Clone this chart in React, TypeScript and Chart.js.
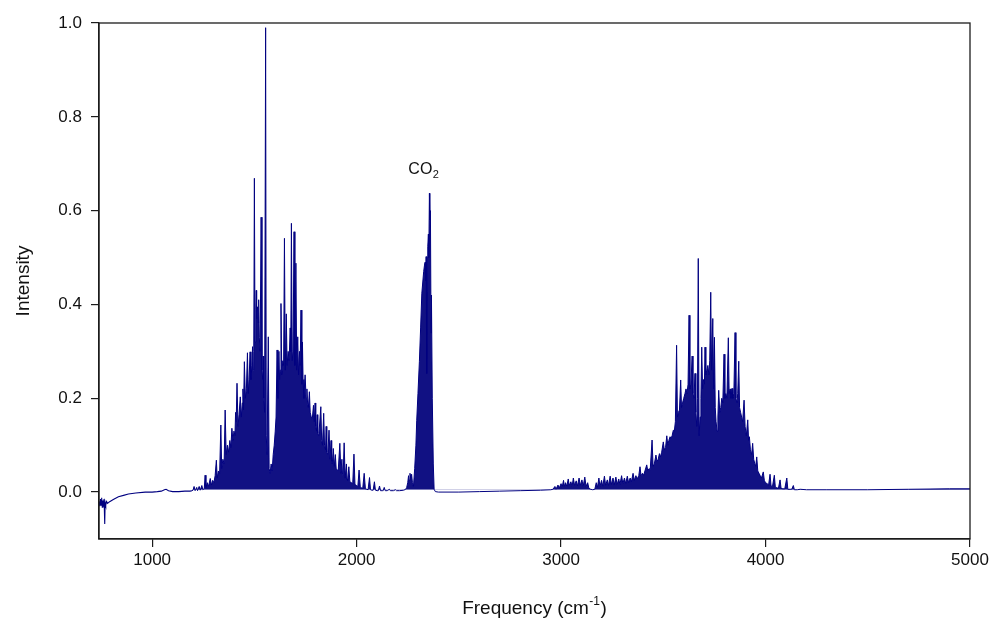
import React, { useEffect, useRef } from 'react';
import { Chart, registerables } from 'chart.js';

Chart.register(...registerables);

// ---- axis settings / tick labels ----
const xTicks = [1000, 2000, 3000, 4000, 5000];
const yTicks = [0.0, 0.2, 0.4, 0.6, 0.8, 1.0];
const xMin = 740;
const xMax = 5000;
const yMin = -0.1;
const yMax = 1.0;

// ---- spectrum values: [frequency cm-1, intensity] ----
const lowBaseline: [number, number][] = [
  [740, -0.02], [744, -0.03], [747, -0.015], [750, -0.028], [753, -0.012], [756, -0.032],
  [759, -0.018], [762, -0.03], [764, -0.015], [766, -0.034], [768, -0.068], [770, -0.022],
  [773, -0.028], [777, -0.02], [782, -0.024], [790, -0.021], [810, -0.016], [835, -0.01],
  [860, -0.007], [884, -0.004], [920, -0.002], [966, 0.0], [1000, 0.0], [1025, 0.001],
  [1045, 0.002], [1060, 0.005], [1068, 0.006], [1080, 0.003], [1100, 0.001], [1130, 0.001],
  [1160, 0.002], [1185, 0.002],
];

const bendBand: [number, number][] = [
  [1195, 0.003], [1200, 0.004], [1205, 0.012], [1210, 0.003], [1218, 0.01], [1222, 0.003],
  [1230, 0.012], [1235, 0.004], [1243, 0.014], [1248, 0.005], [1255, 0.008], [1259, 0.036],
  [1263, 0.01], [1270, 0.02], [1276, 0.012], [1284, 0.029], [1290, 0.015], [1296, 0.025],
  [1302, 0.02], [1308, 0.035], [1314, 0.068], [1318, 0.03], [1324, 0.045], [1330, 0.04],
  [1336, 0.143], [1340, 0.05], [1346, 0.07], [1352, 0.06], [1357, 0.175], [1362, 0.08],
  [1368, 0.1], [1374, 0.085], [1380, 0.11], [1385, 0.095], [1390, 0.136], [1395, 0.11],
  [1400, 0.13], [1405, 0.12], [1408, 0.17], [1411, 0.15], [1415, 0.232], [1420, 0.14],
  [1425, 0.165], [1431, 0.203], [1436, 0.16], [1441, 0.19], [1444, 0.22], [1447, 0.175],
  [1451, 0.278], [1456, 0.2], [1461, 0.22], [1466, 0.297], [1470, 0.21], [1474, 0.24],
  [1479, 0.299], [1483, 0.24], [1488, 0.27], [1491, 0.31], [1494, 0.26], [1497, 0.3],
  [1500, 0.669], [1503, 0.32], [1507, 0.39], [1509, 0.43], [1511, 0.37], [1515, 0.395],
  [1519, 0.36], [1521, 0.41], [1524, 0.33], [1528, 0.3], [1533, 0.586], [1537, 0.26],
  [1541, 0.24], [1543, 0.29], [1546, 0.2], [1550, 0.17], [1555, 0.99], [1558, 0.12],
  [1562, 0.08], [1568, 0.331], [1572, 0.05], [1577, 0.04], [1582, 0.06], [1587, 0.045],
  [1592, 0.08], [1597, 0.1], [1602, 0.13], [1606, 0.16], [1611, 0.303], [1615, 0.2],
  [1620, 0.3], [1623, 0.24], [1626, 0.26], [1630, 0.402], [1634, 0.25], [1639, 0.28],
  [1643, 0.27], [1647, 0.541], [1651, 0.26], [1656, 0.38], [1660, 0.27], [1665, 0.3],
  [1670, 0.28], [1675, 0.35], [1678, 0.3], [1681, 0.573], [1685, 0.28], [1689, 0.3],
  [1694, 0.555], [1698, 0.27], [1703, 0.488], [1707, 0.26], [1712, 0.331], [1716, 0.25],
  [1721, 0.3], [1724, 0.27], [1728, 0.388], [1732, 0.23], [1735, 0.32], [1738, 0.24],
  [1742, 0.2], [1748, 0.25], [1753, 0.2], [1757, 0.22], [1760, 0.19], [1764, 0.18],
  [1769, 0.214], [1773, 0.17], [1778, 0.16], [1783, 0.155], [1789, 0.185], [1793, 0.15],
  [1797, 0.19], [1800, 0.14], [1804, 0.13], [1807, 0.165], [1810, 0.125], [1815, 0.12],
  [1825, 0.182], [1829, 0.11], [1833, 0.1], [1839, 0.168], [1843, 0.1], [1848, 0.09],
  [1851, 0.14], [1854, 0.085], [1859, 0.08], [1865, 0.132], [1870, 0.07], [1875, 0.11],
  [1878, 0.065], [1881, 0.06], [1886, 0.093], [1891, 0.055], [1896, 0.08], [1900, 0.05],
  [1905, 0.048], [1910, 0.045], [1918, 0.104], [1923, 0.04], [1928, 0.07], [1931, 0.037],
  [1934, 0.035], [1939, 0.105], [1944, 0.03], [1950, 0.06], [1953, 0.028], [1956, 0.025],
  [1962, 0.054], [1967, 0.022], [1975, 0.02], [1981, 0.018], [1987, 0.081], [1992, 0.016],
  [2000, 0.014], [2006, 0.012], [2012, 0.047], [2018, 0.01], [2024, 0.009], [2030, 0.008],
  [2037, 0.04], [2043, 0.007], [2050, 0.006], [2056, 0.005], [2063, 0.031], [2068, 0.005],
  [2075, 0.004], [2081, 0.004], [2087, 0.022], [2092, 0.004], [2100, 0.003], [2106, 0.003],
  [2112, 0.013], [2117, 0.003], [2125, 0.003], [2130, 0.003], [2135, 0.01], [2140, 0.003],
  [2150, 0.003], [2160, 0.006], [2165, 0.003], [2180, 0.003], [2190, 0.005], [2195, 0.003],
  [2210, 0.003], [2230, 0.004],
];

const co2Band: [number, number][] = [
  [2240, 0.006], [2245, 0.01], [2250, 0.02], [2254, 0.035], [2257, 0.025], [2261, 0.04],
  [2265, 0.03], [2269, 0.038], [2273, 0.02], [2278, 0.012], [2284, 0.05], [2290, 0.1],
  [2294, 0.153], [2300, 0.21], [2307, 0.278], [2313, 0.35], [2319, 0.424], [2324, 0.45],
  [2328, 0.47], [2332, 0.484], [2335, 0.49], [2338, 0.45], [2340, 0.502], [2343, 0.253],
  [2345, 0.5], [2348, 0.523], [2351, 0.55], [2353, 0.5], [2356, 0.637], [2358, 0.58],
  [2361, 0.6], [2364, 0.339], [2366, 0.42], [2370, 0.2], [2375, 0.06], [2379, 0.006],
  [2385, 0.001],
];

const midBaseline: [number, number][] = [
  [2400, 0.0], [2500, 0.0], [2600, 0.001], [2700, 0.002], [2800, 0.003], [2900, 0.004],
  [2950, 0.005],
];

const stretchBand: [number, number][] = [
  [2960, 0.006], [2970, 0.012], [2975, 0.006], [2985, 0.015], [2990, 0.008], [3000, 0.018],
  [3005, 0.01], [3012, 0.025], [3016, 0.012], [3022, 0.02], [3028, 0.012], [3035, 0.028],
  [3040, 0.014], [3048, 0.022], [3054, 0.012], [3060, 0.03], [3066, 0.014], [3074, 0.024],
  [3080, 0.013], [3088, 0.03], [3094, 0.014], [3102, 0.026], [3108, 0.012], [3116, 0.032],
  [3122, 0.012], [3130, 0.02], [3136, 0.008], [3145, 0.006], [3155, 0.005], [3165, 0.006],
  [3172, 0.02], [3178, 0.01], [3185, 0.03], [3190, 0.012], [3198, 0.025], [3204, 0.012],
  [3212, 0.034], [3218, 0.014], [3226, 0.026], [3232, 0.014], [3240, 0.034], [3246, 0.016],
  [3254, 0.03], [3260, 0.015], [3268, 0.032], [3274, 0.016], [3282, 0.028], [3288, 0.016],
  [3296, 0.035], [3302, 0.018], [3310, 0.03], [3316, 0.018], [3324, 0.034], [3330, 0.02],
  [3338, 0.03], [3344, 0.022], [3352, 0.04], [3358, 0.025], [3366, 0.035], [3372, 0.028],
  [3380, 0.035], [3386, 0.054], [3391, 0.035], [3398, 0.04], [3404, 0.036], [3410, 0.045],
  [3419, 0.058], [3424, 0.045], [3430, 0.05], [3436, 0.048], [3445, 0.111], [3450, 0.055],
  [3456, 0.06], [3464, 0.079], [3469, 0.065], [3475, 0.07], [3481, 0.082], [3486, 0.075],
  [3492, 0.085], [3500, 0.107], [3505, 0.09], [3511, 0.095], [3517, 0.12], [3522, 0.1],
  [3527, 0.11], [3533, 0.118], [3538, 0.115], [3543, 0.12], [3549, 0.132], [3554, 0.13],
  [3559, 0.15], [3565, 0.313], [3569, 0.16], [3574, 0.17], [3579, 0.175], [3585, 0.239],
  [3589, 0.18], [3594, 0.19], [3600, 0.2], [3606, 0.21], [3611, 0.22], [3616, 0.21],
  [3621, 0.23], [3626, 0.377], [3630, 0.22], [3635, 0.23], [3641, 0.29], [3645, 0.21],
  [3650, 0.2], [3655, 0.253], [3659, 0.17], [3664, 0.14], [3667, 0.2], [3671, 0.498],
  [3675, 0.12], [3680, 0.16], [3684, 0.2], [3688, 0.309], [3692, 0.22], [3697, 0.24],
  [3701, 0.23], [3704, 0.309], [3708, 0.25], [3713, 0.26], [3718, 0.27], [3723, 0.25],
  [3727, 0.28], [3732, 0.426], [3736, 0.26], [3742, 0.37], [3746, 0.22], [3750, 0.33],
  [3754, 0.18], [3758, 0.15], [3763, 0.13], [3767, 0.16], [3771, 0.217], [3776, 0.17],
  [3781, 0.18], [3786, 0.2], [3791, 0.19], [3797, 0.294], [3801, 0.2], [3806, 0.21],
  [3811, 0.2], [3818, 0.329], [3822, 0.21], [3827, 0.22], [3831, 0.2], [3836, 0.221],
  [3840, 0.2], [3845, 0.21], [3851, 0.34], [3855, 0.2], [3860, 0.19], [3864, 0.21],
  [3869, 0.279], [3873, 0.18], [3878, 0.17], [3883, 0.16], [3888, 0.15], [3895, 0.196],
  [3900, 0.14], [3906, 0.12], [3913, 0.154], [3917, 0.11], [3921, 0.118], [3926, 0.09],
  [3932, 0.08], [3937, 0.104], [3942, 0.07], [3948, 0.06], [3952, 0.055], [3957, 0.075],
  [3962, 0.045], [3968, 0.04], [3974, 0.035], [3980, 0.03], [3989, 0.043], [3994, 0.025],
  [4000, 0.02], [4008, 0.018], [4015, 0.015], [4022, 0.038], [4027, 0.013], [4034, 0.012],
  [4043, 0.036], [4048, 0.01], [4056, 0.009], [4063, 0.008], [4071, 0.026], [4076, 0.008],
  [4085, 0.007], [4094, 0.007], [4104, 0.03], [4109, 0.006], [4120, 0.006], [4128, 0.006],
  [4136, 0.014], [4141, 0.005], [4155, 0.005], [4170, 0.006], [4200, 0.005],
];

const highBaseline: [number, number][] = [
  [4300, 0.005], [4500, 0.005], [4700, 0.006], [4900, 0.007], [5000, 0.007],
];

const FONT = "'Liberation Sans', Arial, Helvetica, sans-serif";
const NAVY = '#000080';
const FILL = 'rgba(4,4,124,0.95)';

const framePlugin = {
  id: 'frameAndLabels',
  afterDraw(chart: any) {
    const { ctx, chartArea, scales } = chart;
    const { left, top, right, bottom } = chartArea;
    ctx.save();
    // box frame
    ctx.strokeStyle = '#1c1c1c';
    ctx.lineWidth = 1.3;
    ctx.strokeRect(left, top, right - left, bottom - top);

    // CO2 label above the CO2 peak
    let peak = co2Band[0];
    for (const p of co2Band) if (p[1] > peak[1]) peak = p;
    const px = scales.x.getPixelForValue(peak[0]);
    const py = scales.y.getPixelForValue(peak[1]);
    ctx.fillStyle = '#111';
    ctx.textBaseline = 'alphabetic';
    ctx.textAlign = 'left';
    ctx.font = `16px ${FONT}`;
    const wCO = ctx.measureText('CO').width;
    ctx.font = `11px ${FONT}`;
    const w2 = ctx.measureText('2').width;
    const startX = px - 6 - (wCO + w2) / 2;
    const baseY = py - 19;
    ctx.font = `16px ${FONT}`;
    ctx.fillText('CO', startX, baseY);
    ctx.font = `11px ${FONT}`;
    ctx.fillText('2', startX + wCO + 0.5, baseY + 4);

    // x-axis title with superscript
    const main = 'Frequency (cm';
    const sup = '-1';
    const close = ')';
    ctx.font = `19px ${FONT}`;
    const wMain = ctx.measureText(main).width;
    const wClose = ctx.measureText(close).width;
    ctx.font = `12px ${FONT}`;
    const wSup = ctx.measureText(sup).width;
    const total = wMain + wSup + 1 + wClose;
    const cx = (left + right) / 2;
    const ty = bottom + 75;
    let x0 = cx - total / 2;
    ctx.font = `19px ${FONT}`;
    ctx.fillText(main, x0, ty);
    x0 += wMain;
    ctx.font = `12px ${FONT}`;
    ctx.fillText(sup, x0 + 0.5, ty - 9);
    x0 += wSup + 1;
    ctx.font = `19px ${FONT}`;
    ctx.fillText(close, x0, ty);
    ctx.restore();
  },
};

export default function App() {
  const canvasRef = useRef<HTMLCanvasElement | null>(null);

  useEffect(() => {
    const canvas = canvasRef.current;
    if (!canvas) return;
    const toXY = (arr: [number, number][]) => arr.map(([x, y]) => ({ x, y }));
    // below-zero start of the trace (line only), joined to the first band point
    const startPts = toXY([...lowBaseline, bendBand[0]]);
    // rest of the trace, with the dense band areas filled
    const restPts = toXY([...bendBand, ...co2Band, ...midBaseline, ...stretchBand, ...highBaseline]);

    const chart = new Chart(canvas, {
      type: 'line',
      data: {
        datasets: [
          {
            data: startPts,
            borderColor: NAVY,
            borderWidth: 1.1,
            pointRadius: 0,
            tension: 0,
            fill: false,
          } as any,
          {
            data: restPts,
            borderColor: NAVY,
            borderWidth: 1,
            pointRadius: 0,
            tension: 0,
            fill: { target: { value: 0.005 }, above: FILL, below: 'rgba(0,0,0,0)' },
          } as any,
        ],
      },
      options: {
        animation: false,
        responsive: true,
        maintainAspectRatio: false,
        layout: { padding: { left: 0, right: 24, top: 23, bottom: 0 } },
        plugins: {
          legend: { display: false },
          tooltip: { enabled: false },
        },
        scales: {
          x: {
            type: 'linear',
            min: xMin,
            max: xMax,
            afterBuildTicks: (s: any) => {
              s.ticks = xTicks.map((v) => ({ value: v }));
            },
            afterFit: (s: any) => {
              s.height = 89;
            },
            grid: { display: true, drawOnChartArea: false, drawTicks: true, tickLength: 8, color: '#1c1c1c', lineWidth: 1.2 },
            border: { display: true, color: '#1c1c1c', width: 1.3 },
            ticks: {
              color: '#111',
              font: { family: FONT, size: 17 },
              padding: 3,
              maxRotation: 0,
              autoSkip: false,
              callback: (v: any) => String(v),
            },
            title: { display: false },
          },
          y: {
            type: 'linear',
            min: yMin,
            max: yMax,
            afterBuildTicks: (s: any) => {
              s.ticks = yTicks.map((v) => ({ value: v }));
            },
            afterFit: (s: any) => {
              s.width = 99;
            },
            grid: { display: true, drawOnChartArea: false, drawTicks: true, tickLength: 8, color: '#1c1c1c', lineWidth: 1.2 },
            border: { display: true, color: '#1c1c1c', width: 1.3 },
            ticks: {
              color: '#111',
              font: { family: FONT, size: 17 },
              padding: 9,
              autoSkip: false,
              callback: (v: any) => Number(v).toFixed(1),
            },
            title: {
              display: true,
              text: 'Intensity',
              color: '#111',
              font: { family: FONT, size: 19 },
              padding: { top: 12, bottom: 0 },
            },
          },
        },
      },
      plugins: [framePlugin],
    });
    return () => chart.destroy();
  }, []);

  return (
    <div style={{ position: 'fixed', left: 0, top: 0, width: 994, height: 628, background: '#fff' }}>
      <canvas ref={canvasRef} style={{ display: 'block', width: 994, height: 628 }} />
    </div>
  );
}
